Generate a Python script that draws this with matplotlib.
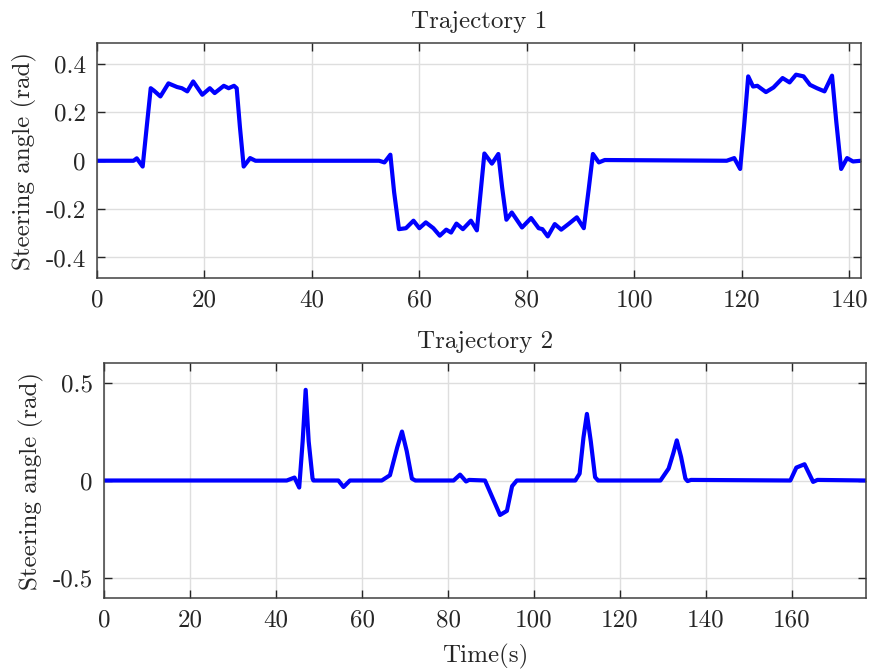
import matplotlib
matplotlib.use("Agg")
import matplotlib.pyplot as plt
import numpy as np

plt.rcParams['font.family'] = ['cmr10', 'DejaVu Serif']
plt.rcParams['axes.unicode_minus'] = False
plt.rcParams['mathtext.fontset'] = 'cm'

# Trajectory 1: time (s) and steering angle (rad)
t1 = [0, 6.8, 7.4, 8.5, 9.3, 10.0, 10.6, 11.8, 13.3, 14.9, 15.8, 16.8, 17.9, 19.6, 21.0, 21.9,
      23.6, 24.5, 25.5, 26.0, 26.6, 27.3, 28.5, 29.5,
      52.5, 53.5, 54.6, 55.3, 56.2, 57.5, 58.9, 60.0, 61.2, 62.6, 63.8, 65.0, 65.9, 66.9,
      68.1, 69.6, 70.7, 71.4, 72.1, 73.5, 74.7, 75.4, 76.2, 77.2, 79.1, 80.8, 82.2, 82.9, 83.9,
      85.2, 86.4, 87.8, 89.3, 90.6, 91.5, 92.3, 93.4, 94.5,
      117.2, 118.6, 119.7, 120.5, 121.2, 122.1, 122.9, 124.5, 125.9, 127.6, 128.9, 130.1,
      131.5, 132.7, 134.0, 135.4, 136.8, 137.6, 138.5, 139.6, 140.7, 142.2]
a1 = [0, 0, 0.01, -0.024, 0.15, 0.30, 0.29, 0.266, 0.32, 0.305, 0.30, 0.287, 0.328, 0.273, 0.30, 0.28,
      0.31, 0.30, 0.31, 0.30, 0.14, -0.024, 0.011, 0,
      0, -0.007, 0.025, -0.13, -0.283, -0.279, -0.248, -0.279, -0.255, -0.279, -0.31, -0.285, -0.297, -0.26,
      -0.283, -0.248, -0.288, -0.13, 0.03, -0.012, 0.028, -0.11, -0.244, -0.214, -0.276, -0.237, -0.279, -0.283, -0.313,
      -0.262, -0.285, -0.261, -0.234, -0.279, -0.12, 0.028, -0.007, 0.003,
      0, 0.011, -0.034, 0.16, 0.349, 0.307, 0.31, 0.284, 0.303, 0.342, 0.324, 0.356,
      0.349, 0.314, 0.30, 0.287, 0.352, 0.16, -0.034, 0.011, -0.003, 0]

# Trajectory 2
t2 = [0, 42.5, 44.3, 45.4, 46.2, 46.9, 47.6, 48.5, 48.7, 54.5, 55.7, 57.2,
      64.6, 66.5, 68.2, 69.3, 70.4, 71.6, 72.4, 81.3, 82.8, 84.2, 84.9, 88.6, 92.1, 93.7, 94.9, 96.0,
      109.6, 110.6, 111.5, 112.3, 113.2, 114.2, 114.9, 129.4, 131.3, 132.4, 133.2, 134.2, 135.2, 135.7, 136.5,
      159.6, 161.0, 162.9, 164.9, 165.9, 177.2]
a2 = [0, 0, 0.015, -0.036, 0.2, 0.463, 0.2, 0.01, 0, 0, -0.033, 0,
      0, 0.027, 0.17, 0.25, 0.15, 0.01, 0, 0, 0.03, -0.005, 0.003, 0, -0.176, -0.155, -0.029, 0,
      0, 0.035, 0.22, 0.34, 0.2, 0.017, 0, 0, 0.061, 0.14, 0.205, 0.12, 0.01, -0.003, 0.003,
      0, 0.066, 0.083, -0.007, 0.003, 0]

xticks1 = [0, 20, 40, 60, 80, 100, 120, 140]
yticks1 = [-0.4, -0.2, 0, 0.2, 0.4]
ylabels1 = ['-0.4', '-0.2', '0', '0.2', '0.4']
xticks2 = [0, 20, 40, 60, 80, 100, 120, 140, 160]
yticks2 = [-0.5, 0, 0.5]
ylabels2 = ['-0.5', '0', '0.5']

fs = 18
fig = plt.figure(figsize=(8.73, 6.71), dpi=100)
ax1 = fig.add_axes([0.1111, 0.5857, 0.8752, 0.3502])
ax2 = fig.add_axes([0.1191, 0.1088, 0.8729, 0.3502])


def style(ax, xt, yt, yl, xlim, ylim):
    ax.set_xlim(*xlim)
    ax.set_ylim(*ylim)
    ax.set_xticks(xt)
    ax.set_xticklabels([str(v) for v in xt], fontsize=fs)
    ax.set_yticks(yt)
    ax.set_yticklabels(yl, fontsize=fs)
    ax.grid(True, color='#dedede', linewidth=1.0)
    ax.set_axisbelow(True)
    ax.tick_params(direction='in', top=True, right=True, length=6, width=1,
                   color='#262626', labelcolor='#262626', pad=8)
    for s in ax.spines.values():
        s.set_color('#404040')
        s.set_linewidth(1.1)


ax1.plot(t1, a1, color='#0000ff', linewidth=3.0, solid_joinstyle='round',
         solid_capstyle='round')
style(ax1, xticks1, yticks1, ylabels1, (0, 142.2), (-0.485, 0.487))
ax1.set_title('Trajectory 1', fontsize=fs, color='#262626', pad=11)
ax1.set_ylabel('Steering angle (rad)', fontsize=fs, color='#262626', labelpad=6)

ax2.plot(t2, a2, color='#0000ff', linewidth=3.0, solid_joinstyle='round',
         solid_capstyle='round')
style(ax2, xticks2, yticks2, ylabels2, (0, 177.2), (-0.6, 0.6))
ax2.set_title('Trajectory 2', fontsize=fs, color='#262626', pad=11)
ax2.set_ylabel('Steering angle (rad)', fontsize=fs, color='#262626', labelpad=6)
ax2.set_xlabel('Time(s)', fontsize=fs, color='#262626', labelpad=9)

fig.savefig('out.png', dpi=100)
